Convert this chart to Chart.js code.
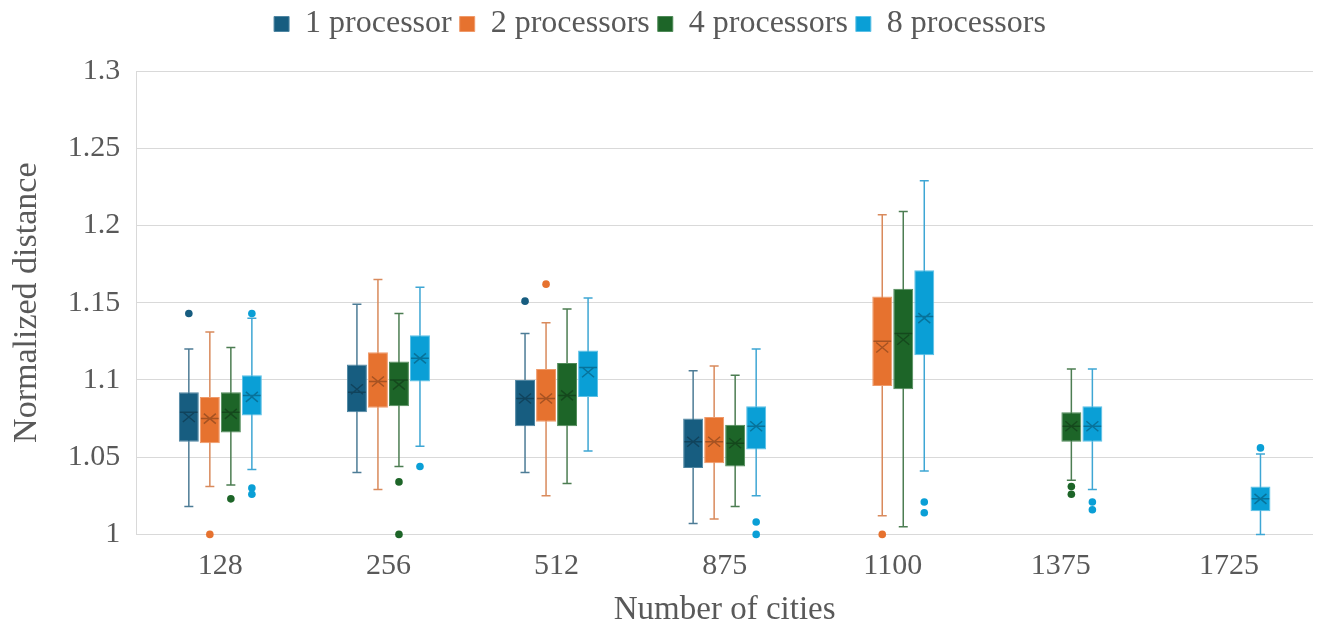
<!DOCTYPE html>
<html>
<head>
<meta charset="utf-8">
<title>Normalized distance by number of cities</title>
<script src="https://cdn.jsdelivr.net/npm/chart.js"></script>
<style>
  html, body {
    margin: 0;
    padding: 0;
    width: 1320px;
    height: 634px;
    background: #fff;
    overflow: hidden;
  }
  #container {
    width: 1320px;
    height: 634px;
  }
</style>
</head>
<body>
<div id="container">
  <canvas id="boxChart"></canvas>
</div>
<script>
  // categories
  const cities = ['128', '256', '512', '875', '1100', '1375', '1725'];
  const seriesNames = ['1 processor', '2 processors', '4 processors', '8 processors'];

  // each entry: [min, q1, median, q3, max, mean]  (null = no run)
  const proc1 = [
    [1.018, 1.060, 1.079, 1.092, 1.120, 1.076],
    [1.040, 1.079, 1.092, 1.110, 1.149, 1.094],
    [1.040, 1.070, 1.088, 1.100, 1.130, 1.088],
    [1.007, 1.043, 1.060, 1.075, 1.106, 1.060],
    null, null, null
  ];
  const proc2 = [
    [1.031, 1.059, 1.075, 1.089, 1.131, 1.075],
    [1.029, 1.082, 1.099, 1.118, 1.165, 1.099],
    [1.025, 1.073, 1.088, 1.107, 1.137, 1.088],
    [1.010, 1.046, 1.060, 1.076, 1.109, 1.060],
    [1.012, 1.096, 1.125, 1.154, 1.207, 1.121],
    null, null
  ];
  const proc4 = [
    [1.032, 1.066, 1.079, 1.092, 1.121, 1.078],
    [1.044, 1.083, 1.100, 1.112, 1.143, 1.097],
    [1.033, 1.070, 1.090, 1.111, 1.146, 1.090],
    [1.018, 1.044, 1.059, 1.071, 1.103, 1.059],
    [1.005, 1.094, 1.130, 1.159, 1.209, 1.126],
    [1.035, 1.060, 1.070, 1.079, 1.107, 1.070],
    null
  ];
  const proc8 = [
    [1.042, 1.077, 1.090, 1.103, 1.140, 1.089],
    [1.057, 1.099, 1.114, 1.129, 1.160, 1.114],
    [1.054, 1.089, 1.108, 1.119, 1.153, 1.105],
    [1.025, 1.055, 1.070, 1.083, 1.120, 1.070],
    [1.041, 1.116, 1.141, 1.171, 1.229, 1.140],
    [1.029, 1.060, 1.070, 1.083, 1.107, 1.070],
    [1.000, 1.015, 1.023, 1.031, 1.052, 1.023]
  ];

  // outliers per category
  const proc1Outliers = [[1.143], [], [1.151], [], [], [], []];
  const proc2Outliers = [[1.000], [], [1.162], [], [1.000], [], []];
  const proc4Outliers = [[1.023], [1.034, 1.000], [], [], [], [1.031, 1.026], []];
  const proc8Outliers = [[1.143, 1.030, 1.026], [1.044], [], [1.008, 1.000], [1.021, 1.014], [1.021, 1.016], [1.056]];

  const yTicksMin = 1;
  const yTicksMax = 1.3;
  const yTicksStep = 0.05;

  const fills = ['#175d80', '#e6722f', '#1d6528', '#0a9fd6'];
  const whiskerColors = ['#4d7c96', '#d98a5c', '#4c7d52', '#3ea6d4'];
  const borderColors = ['#4f86a2', '#ef9a6a', '#4f8a58', '#5cc0e6'];

  const allStats = [proc1, proc2, proc4, proc8];
  const allOutliers = [proc1Outliers, proc2Outliers, proc4Outliers, proc8Outliers];

  // extra room below the legend
  const legendSpace = {
    id: 'legendSpace',
    beforeInit(chart) {
      const fit = chart.legend.fit;
      chart.legend.fit = function () {
        fit.bind(chart.legend)();
        this.height += 21;
      };
    }
  };

  const boxPlot = {
    id: 'boxPlot',
    beforeDatasetsDraw(chart) {
      const ctx = chart.ctx;
      const y = chart.scales.y;
      chart.data.datasets.forEach((ds, di) => {
        const meta = chart.getDatasetMeta(di);
        meta.data.forEach((bar, i) => {
          const s = ds.stats[i];
          if (!s) return;
          const x = bar.x;
          const cap = 4.5;
          ctx.save();
          ctx.strokeStyle = ds.whiskerColor;
          ctx.lineWidth = 1.5;
          ctx.beginPath();
          ctx.moveTo(x, y.getPixelForValue(s[0]));
          ctx.lineTo(x, y.getPixelForValue(s[4]));
          [s[0], s[4]].forEach(v => {
            const py = y.getPixelForValue(v);
            ctx.moveTo(x - cap, py);
            ctx.lineTo(x + cap, py);
          });
          ctx.stroke();
          ctx.restore();
        });
      });
    },
    afterDatasetsDraw(chart) {
      const ctx = chart.ctx;
      const y = chart.scales.y;
      chart.data.datasets.forEach((ds, di) => {
        const meta = chart.getDatasetMeta(di);
        meta.data.forEach((bar, i) => {
          const x = bar.x;
          const s = ds.stats[i];
          ctx.save();
          if (s) {
            const half = bar.width / 2;
            const pm = y.getPixelForValue(s[2]);
            const pMean = y.getPixelForValue(s[5]);
            ctx.strokeStyle = 'rgba(0,0,0,0.28)';
            ctx.lineWidth = 1.5;
            ctx.beginPath();
            ctx.moveTo(x - half + 1, pm);
            ctx.lineTo(x + half - 1, pm);
            // mean cross
            ctx.moveTo(x - 6, pMean - 5);
            ctx.lineTo(x + 6, pMean + 5);
            ctx.moveTo(x - 6, pMean + 5);
            ctx.lineTo(x + 6, pMean - 5);
            ctx.stroke();
          }
          ctx.fillStyle = ds.backgroundColor;
          ds.outliers[i].forEach(v => {
            ctx.beginPath();
            ctx.arc(x, y.getPixelForValue(v), 3.8, 0, Math.PI * 2);
            ctx.fill();
          });
          ctx.restore();
        });
      });
    }
  };

  const ctx = document.getElementById('boxChart').getContext('2d');

  new Chart(ctx, {
    type: 'bar',
    data: {
      labels: cities,
      datasets: seriesNames.map((name, k) => ({
        label: name,
        data: allStats[k].map(s => (s ? [s[1], s[3]] : null)),
        stats: allStats[k],
        outliers: allOutliers[k],
        backgroundColor: fills[k],
        borderColor: borderColors[k],
        whiskerColor: whiskerColors[k],
        borderWidth: 1,
        borderSkipped: false,
        barPercentage: 0.95,
        categoryPercentage: 0.5
      }))
    },
    options: {
      responsive: true,
      maintainAspectRatio: false,
      animation: false,
      layout: { padding: { left: 7, right: 7, top: 0, bottom: 4 } },
      plugins: {
        tooltip: { enabled: false },
        legend: {
          position: 'top',
          labels: {
            color: '#595959',
            font: { family: 'Liberation Serif', size: 32 },
            boxWidth: 15,
            boxHeight: 15,
            padding: 8
          }
        }
      },
      scales: {
        x: {
          grid: { display: false },
          border: { display: false },
          ticks: {
            color: '#595959',
            font: { family: 'Liberation Serif', size: 30 },
            padding: 6
          },
          title: {
            display: true,
            text: 'Number of cities',
            color: '#595959',
            font: { family: 'Liberation Serif', size: 33 },
            padding: { top: 0, bottom: 0 }
          }
        },
        y: {
          min: yTicksMin,
          max: yTicksMax,
          grid: { color: '#d9d9d9', lineWidth: 1, drawTicks: false },
          border: { display: true, color: '#d9d9d9' },
          ticks: {
            stepSize: yTicksStep,
            color: '#595959',
            font: { family: 'Liberation Serif', size: 30 },
            padding: 16,
            callback: v => String(+v.toFixed(2))
          },
          title: {
            display: true,
            text: 'Normalized distance',
            color: '#595959',
            font: { family: 'Liberation Serif', size: 34 },
            padding: { top: 0, bottom: 4 }
          }
        }
      }
    },
    plugins: [legendSpace, boxPlot]
  });
</script>
</body>
</html>
